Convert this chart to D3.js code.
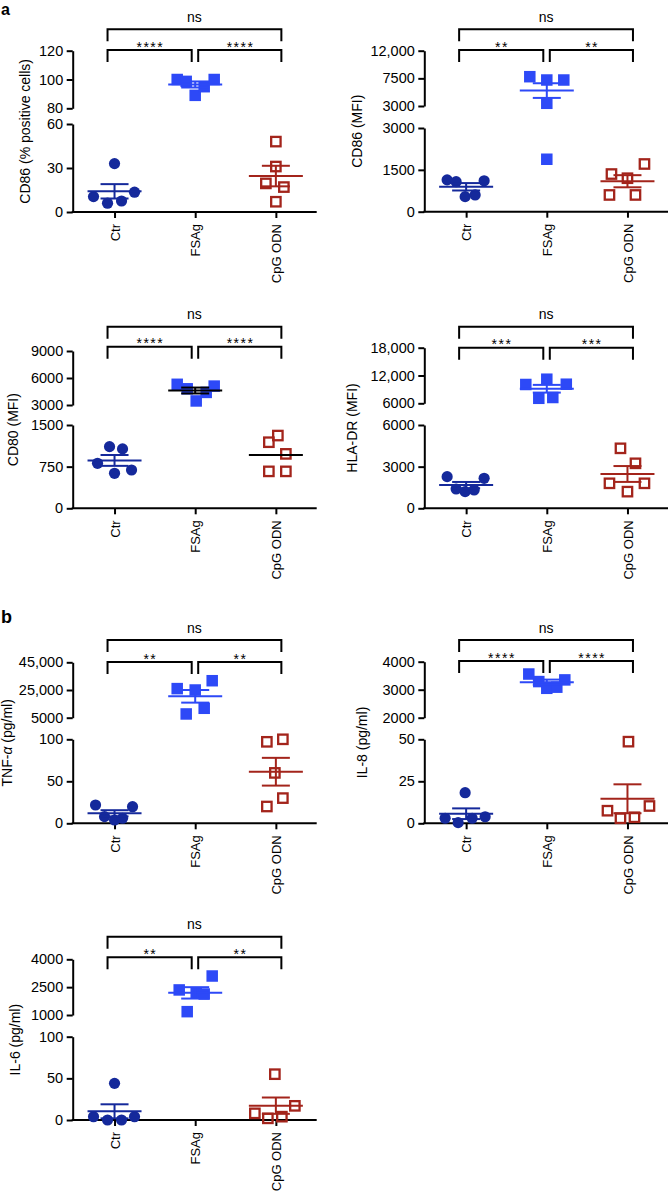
<!DOCTYPE html>
<html><head><meta charset="utf-8">
<script src="https://cdn.jsdelivr.net/npm/d3@7"></script>
<style>
body{margin:0;background:#fff;}
svg text{font-family:"Liberation Sans",Arial,Helvetica,sans-serif;fill:#000;}
</style></head><body>
<svg id="chart" width="668" height="1195"></svg>
<script>
// ---------------- DATA ----------------
const groups = ["Ctr", "FSAg", "CpG ODN"];

// values per group: [Ctr, FSAg, CpG ODN]
const cd86Pct = [[33, 10.5, 6, 7.5, 13.5], [100, 98.7, 89, 95, 100], [48, 31, 19.5, 17, 7]];
const cd86Mfi = [[1140, 1075, 1110, 540, 600], [7770, 7230, 7230, 3440, 1880], [1710, 1350, 1200, 600, 600]];
const cd80Mfi = [[1110, 1070, 810, 690, 630], [5300, 4800, 3450, 4400, 5100], [1310, 1190, 980, 665, 665]];
const hladrMfi = [[2280, 2160, 1390, 1200, 1320], [10060, 11200, 10120, 7080, 7250], [4320, 3240, 1800, 1800, 1200]];
const tnfa = [[21.8, 19.8, 7.9, 3.9, 6], [26000, 25000, 31700, 7700, 11800], [97, 100, 60, 30, 20]];
const il8 = [[18.2, 3, 0.4, 3, 3.9], [3560, 3290, 3050, 3090, 3350], [48.6, 7.5, 10.3, 3, 3.6]];
const il6 = [[44, 4, 0, 0, 4], [3100, 2350, 2200, 2130, 1180], [55, 17, 8, 2, 4]];

// y-axis ticks (upper segment / lower segment of broken axis)
const cd86PctTicks = [[80, 100, 120], [0, 30, 60]];
const cd86MfiTicks = [[3000, 7500, 12000], [0, 1500, 3000]];
const cd80Ticks = [[3000, 6000, 9000], [0, 750, 1500]];
const hladrTicks = [[6000, 12000, 18000], [0, 3000, 6000]];
const tnfaTicks = [[5000, 25000, 45000], [0, 50, 100]];
const il8Ticks = [[2000, 3000, 4000], [0, 25, 50]];
const il6Ticks = [[1000, 2500, 4000], [0, 50, 100]];

const yTitles = ["CD86 (% positive cells)", "CD86 (MFI)", "CD80 (MFI)", "HLA-DR (MFI)", "TNF-α (pg/ml)", "IL-8 (pg/ml)", "IL-6 (pg/ml)"];
const sigLabels = ["****", "**", "****", "***", "**", "****", "**"];
const outerLabel = "ns";

// scatter column spread (in symbol slots) of each point, as in the dot plot
const spreads = [
  [[0, -2.1, -0.7, 0.7, 2.0], [-1.8, -0.9, 0, 0.9, 1.9], [0, 0, -1, 0.8, 0]],
  [[-1.9, -1.0, 1.8, -0.1, 0.9], [-1.7, 0, 1.7, 0, 0], [1.7, -1.6, 0, -1.8, 0.8]],
  [[-0.5, 0.8, -1.7, 1.7, 0], [-1.8, -0.8, 0.1, 1.1, 1.9], [0.2, -0.7, 1.0, -0.7, 1.0]],
  [[-1.9, 1.8, -1.0, -0.1, 0.8], [-2.1, 0, 1.95, -0.8, 0.6], [-0.7, 0.8, -1.8, 1.7, 0]],
  [[-1.9, 1.8, -1.0, 0, 0.8], [-1.8, 0, 1.7, -0.9, 0.9], [-0.9, 0.7, -0.1, 0.7, -0.9]],
  [[-0.1, -2.1, -0.8, 0.6, 1.9], [-1.8, -0.8, 0, 1.0, 1.8], [0.1, -2.0, 2.2, -0.7, 0.7]],
  [[0, -2.1, -0.7, 0.7, 2.0], [1.7, -1.6, 0.1, 0.9, -0.8], [-0.1, 1.9, -2.1, -0.8, 0.6]]
];

const panelValues = [cd86Pct, cd86Mfi, cd80Mfi, hladrMfi, tnfa, il8, il6];
const panelTicks = [cd86PctTicks, cd86MfiTicks, cd80Ticks, hladrTicks, tnfaTicks, il8Ticks, il6Ticks];

// ---------------- LAYOUT ----------------
const layout = [
  {ax: 72.7, top: [108.3, 50.7], bot: [212, 124], outer: 29.3, inner: 50, titleDx: -48},
  {ax: 424.3, top: [106, 50.7], bot: [211.7, 128], outer: 29.3, inner: 50, titleDx: -67},
  {ax: 72.7, top: [405, 351], bot: [508.3, 425], outer: 326.7, inner: 346.7, titleDx: -60, meanColors: ["#15299b", "#000", "#000"], noSem: [false, false, true]},
  {ax: 424.3, top: [403.3, 347.7], bot: [508.3, 425], outer: 326.7, inner: 347.7, titleDx: -72},
  {ax: 72.7, top: [717.7, 662.3], bot: [823.3, 739.3], outer: 640, inner: 662, titleDx: -66},
  {ax: 424.3, top: [717.7, 661.7], bot: [823.3, 739.3], outer: 640, inner: 661, titleDx: -62},
  {ax: 72.7, top: [1015, 959.3], bot: [1120, 1036.7], outer: 936.7, inner: 957.3, titleDx: -58}
];
const colors = ["#15299b", "#2d49f7", "#a3241b"];
const SLOT = 10;

const svg = d3.select("#chart");
const fmt = v => v >= 10000 ? d3.format(",")(v) : String(v);

function styleAxis(sel, fs) {
  sel.attr("font-size", null).attr("font-family", null);
  sel.selectAll("path,line").attr("stroke", "#000").attr("stroke-width", 2);
  sel.selectAll("text").attr("font-size", fs);
}

panelValues.forEach((vals, i) => {
  const L = layout[i];
  const ticks = panelTicks[i];
  const g = svg.append("g");
  const x = d3.scalePoint().domain(groups).range([L.ax + 1.5, L.ax + 243.5]).padding(0.5);
  const yTop = d3.scaleLinear().domain([ticks[0][0], ticks[0][ticks[0].length - 1]]).range(L.top);
  const yBot = d3.scaleLinear().domain([0, ticks[1][ticks[1].length - 1]]).range(L.bot);
  const y = v => v >= ticks[0][0] ? yTop(v) : yBot(v);

  // y axes (broken)
  [yTop, yBot].forEach((sc, k) => {
    const a = g.append("g").attr("transform", `translate(${L.ax},0)`)
      .call(d3.axisLeft(sc).tickValues(ticks[k]).tickFormat(fmt).tickSize(6).tickSizeOuter(0).tickPadding(3.5));
    styleAxis(a, "14.5px");
  });
  // x axis
  const xa = g.append("g").attr("transform", `translate(0,${L.bot[0]})`)
    .call(d3.axisBottom(x).tickSize(6).tickSizeOuter(0));
  xa.select(".domain").remove();
  styleAxis(xa, "13px");
  xa.selectAll(".tick text")
    .attr("transform", "rotate(-90)")
    .attr("text-anchor", "end")
    .attr("x", -12).attr("y", 0).attr("dy", "0.35em");
  g.append("line").attr("x1", L.ax - 1).attr("x2", L.ax + 244)
    .attr("y1", L.bot[0]).attr("y2", L.bot[0]).attr("stroke", "#000").attr("stroke-width", 2);

  // y title
  const ty = (L.top[1] + L.bot[0]) / 2, tx = L.ax + L.titleDx;
  const t = g.append("text").attr("transform", `translate(${tx},${ty}) rotate(-90)`)
    .attr("text-anchor", "middle").attr("dy", "0.35em").attr("font-size", "14px");
  const title = yTitles[i];
  if (title.includes("α")) {
    const parts = title.split("α");
    t.append("tspan").text(parts[0]);
    t.append("tspan").attr("font-style", "italic").text("α");
    t.append("tspan").text(parts[1]);
  } else t.text(title);

  // points
  groups.forEach((grp, gi) => {
    const cx = x(grp);
    const pts = vals[gi].map((v, j) => ({v, s: spreads[i][gi][j]}));
    const pg = g.append("g");
    if (gi === 0) {
      pg.selectAll("circle").data(pts).join("circle")
        .attr("cx", d => cx + d.s * SLOT).attr("cy", d => y(d.v)).attr("r", 5.6)
        .attr("fill", colors[0]);
    } else if (gi === 1) {
      pg.selectAll("rect").data(pts).join("rect")
        .attr("x", d => cx + d.s * SLOT - 5.75).attr("y", d => y(d.v) - 5.75)
        .attr("width", 11.5).attr("height", 11.5).attr("fill", colors[1]);
    } else {
      pg.selectAll("rect").data(pts).join("rect")
        .attr("x", d => cx + d.s * SLOT - 4.7).attr("y", d => y(d.v) - 4.7)
        .attr("width", 9.4).attr("height", 9.4).attr("fill", "none")
        .attr("stroke", colors[2]).attr("stroke-width", 2.3);
    }
    // mean +/- SEM
    const m = d3.mean(vals[gi]);
    const se = d3.deviation(vals[gi]) / Math.sqrt(vals[gi].length);
    const mc = L.meanColors ? L.meanColors[gi] : colors[gi];
    const lg = g.append("g").attr("stroke", mc).attr("stroke-width", 2);
    lg.append("line").attr("x1", cx - 27).attr("x2", cx + 27).attr("y1", y(m)).attr("y2", y(m));
    if (!(L.noSem && L.noSem[gi])) {
      lg.append("line").attr("x1", cx).attr("x2", cx).attr("y1", y(m - se)).attr("y2", y(m + se));
      [m - se, m + se].forEach(b => {
        lg.append("line").attr("x1", cx - 14).attr("x2", cx + 14).attr("y1", y(b)).attr("y2", y(b));
      });
    }
  });

  // significance brackets
  const xl = x(groups[0]) - 7, xm1 = x(groups[1]) - 3.5, xm2 = x(groups[1]) + 3, xr = x(groups[2]) + 5.5;
  const leg = 12;
  const bp = [
    [xl, L.outer, xr],
    [xl, L.inner, xm1],
    [xm2, L.inner, xr]
  ];
  g.selectAll(".br").data(bp).join("path")
    .attr("d", d => `M${d[0]},${d[1] + leg}V${d[1]}H${d[2]}V${d[1] + leg}`)
    .attr("fill", "none").attr("stroke", "#000").attr("stroke-width", 2);
  g.append("text").attr("x", (xl + xr) / 2).attr("y", L.outer - 7.5)
    .attr("text-anchor", "middle").attr("font-size", "14px").text(outerLabel);
  [[xl, xm1], [xm2, xr]].forEach(([a, b]) => {
    g.append("text").attr("x", (a + b) / 2 + 0.75).attr("y", L.inner + 1.5)
      .attr("text-anchor", "middle").attr("font-size", "14px")
      .attr("letter-spacing", "1.5px").text(sigLabels[i]);
  });
});

// panel letters
svg.append("text").attr("x", 1).attr("y", 15).attr("font-size", "16px").attr("font-weight", "bold").text("a");
svg.append("text").attr("x", 1).attr("y", 623).attr("font-size", "18px").attr("font-weight", "bold").text("b");
</script>
</body></html>
